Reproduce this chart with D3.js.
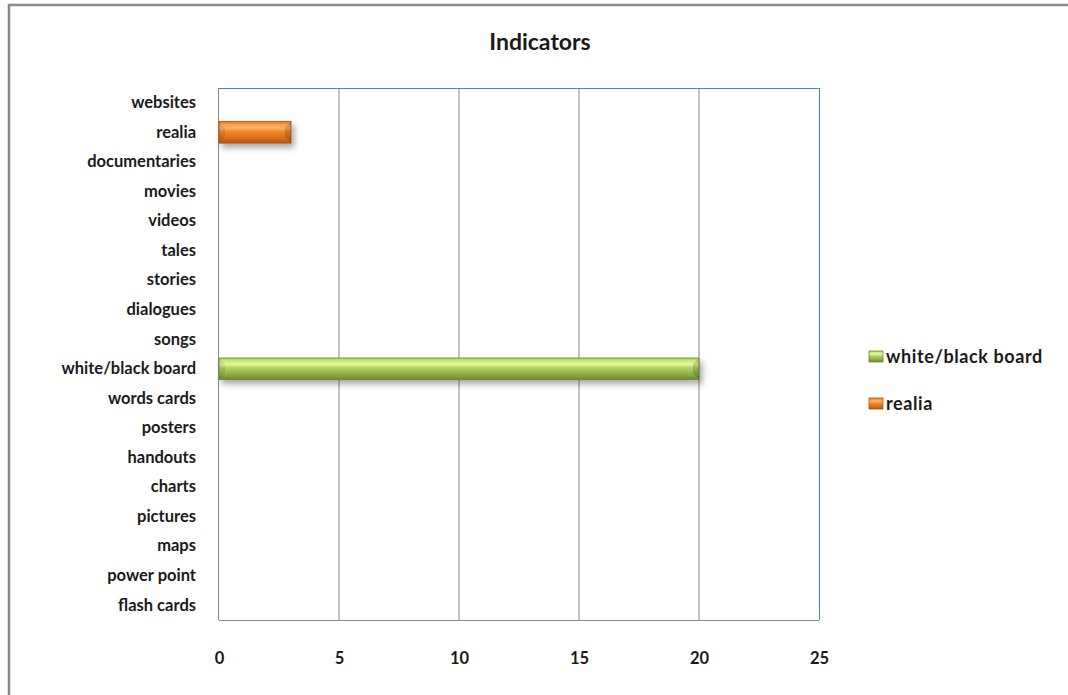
<!DOCTYPE html>
<html><head><meta charset="utf-8">
<script src="https://cdn.jsdelivr.net/npm/d3@7"></script>
<style>body{margin:0;background:#fff}svg{display:block}text{font-family:Lato,"Open Sans",sans-serif;font-weight:bold}</style>
</head><body><svg id="c" width="1068" height="695"></svg>
<script>
const categories = ["websites","realia","documentaries","movies","videos","tales","stories","dialogues","songs","white/black board","words cards","posters","handouts","charts","pictures","maps","power point","flash cards"];
const seriesNames = ["white/black board","realia"];
const boardValues = [0,0,0,0,0,0,0,0,0,20,0,0,0,0,0,0,0,0];
const realiaValues = [0,3,0,0,0,0,0,0,0,0,0,0,0,0,0,0,0,0];
const xTicks = [0,5,10,15,20,25];
const title = "Indicators";

const svg = d3.select("#c");
const defs = svg.append("defs");
function grad(id, stops){
  const g = defs.append("linearGradient").attr("id",id).attr("x1",0).attr("y1",0).attr("x2",0).attr("y2",1);
  stops.forEach(s=>g.append("stop").attr("offset",s[0]).attr("stop-color",s[1]));
}
grad("gG",[[0,"#a9c95c"],[0.12,"#c9e87a"],[0.3,"#e4f89c"],[0.45,"#b5d364"],[0.75,"#8fae48"],[1,"#6b8a2e"]]);
grad("gO",[[0,"#e8731a"],[0.12,"#f59a45"],[0.3,"#fbb56b"],[0.45,"#f08a2c"],[0.75,"#e0701a"],[1,"#b0530f"]]);
const f = defs.append("filter").attr("id","sh").attr("x","-5%").attr("y","-30%").attr("width","115%").attr("height","200%");
f.append("feDropShadow").attr("dx",3).attr("dy",4).attr("stdDeviation",3).attr("flood-color","#000").attr("flood-opacity",0.35);

// outer frame (extends past right/bottom edges as in reference)
svg.append("rect").attr("x",9).attr("y",5).attr("width",1080).attr("height",720).attr("fill","#fff").attr("stroke","#8a8a8a").attr("stroke-width",2.5);

const m = {l:219, t:88, r:819, b:620};
const x = d3.scaleLinear().domain([0,25]).range([m.l,m.r]);
const y = d3.scaleBand().domain(categories).range([m.t,m.b]).paddingInner(0.27).paddingOuter(0.135);

svg.append("text").attr("x",540).attr("y",50).attr("text-anchor","middle").attr("font-size",23).attr("fill","#1a1a1a").text(title);

// grid
svg.append("g").selectAll("line").data(xTicks.slice(1,-1)).join("line")
  .attr("x1",d=>x(d)).attr("x2",d=>x(d)).attr("y1",m.t).attr("y2",m.b).attr("stroke","#888").attr("stroke-width",1);
// plot border
svg.append("line").attr("x1",m.l).attr("x2",m.r).attr("y1",m.t+0.5).attr("y2",m.t+0.5).attr("stroke","#4f81bd");
svg.append("line").attr("x1",m.r+0.5).attr("x2",m.r+0.5).attr("y1",m.t).attr("y2",m.b).attr("stroke","#4f81bd");
svg.append("line").attr("x1",m.l-0.5).attr("x2",m.l-0.5).attr("y1",m.t).attr("y2",m.b).attr("stroke","#888");
svg.append("line").attr("x1",m.l).attr("x2",m.r).attr("y1",m.b+0.5).attr("y2",m.b+0.5).attr("stroke","#888");

// y axis labels
const ya = svg.append("g").attr("transform",`translate(${m.l-23},0)`).call(d3.axisLeft(y).tickSize(0).tickPadding(0));
ya.select(".domain").remove();
ya.selectAll("text").attr("font-size",16.5).attr("fill","#1a1a1a").attr("font-family","Lato, sans-serif").attr("font-weight","bold");

// x axis labels
const xa = svg.append("g").attr("transform",`translate(0,${m.b+32})`).call(d3.axisBottom(x).tickValues(xTicks).tickSize(0).tickPadding(0));
xa.select(".domain").remove();
xa.selectAll("text").attr("font-size",16.5).attr("fill","#1a1a1a").attr("dy","0.71em").attr("font-family","Lato, sans-serif").attr("font-weight","bold");

// bars
const series = [{name:seriesNames[0],vals:boardValues,fill:"url(#gG)",stroke:"#6b8a2e"},{name:seriesNames[1],vals:realiaValues,fill:"url(#gO)",stroke:"#b0530f"}];
series.forEach(s=>{
  const data = categories.map((c,i)=>({c,v:s.vals[i]})).filter(d=>d.v>0);
  const g = svg.append("g");
  g.selectAll("rect").data(data).join("rect")
    .attr("x",x(0)).attr("y",d=>y(d.c)).attr("width",d=>x(d.v)-x(0)).attr("height",y.bandwidth())
    .attr("fill",s.fill).attr("stroke",s.stroke).attr("stroke-width",0.8).attr("filter","url(#sh)");
  g.selectAll("path.l").data(data).join("path")
    .attr("d",d=>{const x0=x(0),y0=y(d.c),h=y.bandwidth();return `M${x0},${y0}L${x0+6},${y0+6}L${x0+6},${y0+h-6}L${x0},${y0+h}Z`;})
    .attr("fill","#000").attr("opacity",0.08);
  g.selectAll("path.r").data(data).join("path")
    .attr("d",d=>{const x1=x(d.v),y0=y(d.c),h=y.bandwidth();return `M${x1},${y0}L${x1-6},${y0+6}L${x1-6},${y0+h-6}L${x1},${y0+h}Z`;})
    .attr("fill","#000").attr("opacity",0.15);
});

// legend
const lg = svg.append("g");
series.forEach((s,i)=>{
  const ly = 357 + i*47;
  lg.append("rect").attr("x",869).attr("y",ly-6).attr("width",14).attr("height",11).attr("fill",s.fill).attr("stroke",s.stroke).attr("stroke-width",0.8);
  lg.append("text").attr("x",886).attr("y",ly).attr("dy","0.35em").attr("font-size",18).attr("letter-spacing",0.6).attr("font-family","'Open Sans', sans-serif").attr("fill","#1a1a1a").text(s.name);
});
</script></body></html>
